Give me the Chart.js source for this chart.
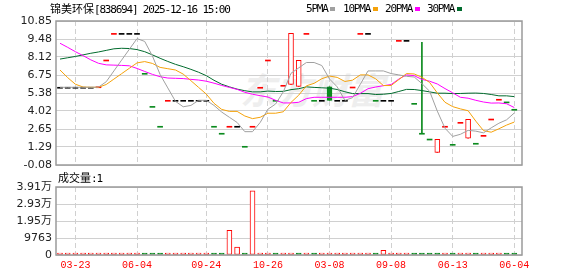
<!DOCTYPE html>
<html><head><meta charset="utf-8">
<script src="https://cdn.jsdelivr.net/npm/chart.js@4/dist/chart.umd.min.js"></script>
<style>
html,body{margin:0;padding:0;background:#fff;}
body{width:578px;height:276px;position:relative;overflow:hidden;}
canvas{position:absolute;left:0;}
#pc{top:0;}
#vc{top:170px;}
.t{position:absolute;white-space:nowrap;font-size:11px;line-height:13px;color:#000;}
.mono{font-family:"DejaVu Sans Mono";letter-spacing:-1.2px;}
.cn{font-family:"Noto Sans CJK SC";}
.sq{position:absolute;width:5px;height:4px;top:7px;}
#wm{position:absolute;left:240px;top:62px;font:italic bold 36px "Noto Sans CJK SC";color:#eeeeee;white-space:nowrap;}
</style></head><body>
<div id="wm">东方财富</div>
<canvas id="pc" width="578" height="176"></canvas>
<canvas id="vc" width="578" height="106"></canvas>
<div class="t" style="left:50px;top:2px"><span class="cn">锦美环保</span><span class="mono">[838694] 2025-12-16 15:00</span></div>
<div class="t mono" style="left:306px;top:2px">5PMA</div><div class="sq" style="left:330px;background:#a0a0a0"></div>
<div class="t mono" style="left:343px;top:2px">10PMA</div><div class="sq" style="left:373px;background:#f5a20a"></div>
<div class="t mono" style="left:385px;top:2px">20PMA</div><div class="sq" style="left:415px;background:#ff00ff"></div>
<div class="t mono" style="left:427px;top:2px">30PMA</div><div class="sq" style="left:457px;background:#006b2d"></div>
<div class="t" style="left:58px;top:171px"><span class="cn">成交量</span><span class="mono">:1</span></div>
<script>
// ---- data ----
const prevClose = 5.82;
const opens  = [5.82,5.82,5.82,5.82,5.82,5.86,7.89,9.91,9.91,9.91, 9.91,6.88,4.37,2.86,4.83,4.83,4.83,4.83,4.83,4.83, 2.86,2.33,2.86,2.86,1.34,2.86,5.82,7.89,4.83,5.97, 6.04,5.89,9.91,4.83,4.83,5.86,4.83,4.83,5.84,9.91, 9.91,4.83,4.83,4.83,9.38,9.38,4.60,2.33,1.89,0.88, 2.86,1.49,3.16,1.95,1.57,2.17,3.41,4.91,4.71,4.15];
const closes = [5.82,5.82,5.82,5.82,5.82,5.86,7.89,9.91,9.91,9.91, 9.91,6.88,4.37,2.86,4.83,4.83,4.83,4.83,4.83,4.83, 2.86,2.33,2.86,2.86,1.34,2.86,5.82,7.89,4.83,5.97, 9.91,7.86,9.91,4.83,4.83,4.83,4.83,4.83,5.84,9.91, 9.91,4.83,4.83,4.83,9.38,9.38,4.60,2.33,1.89,1.87, 2.86,1.49,3.16,3.39,1.57,2.17,3.41,4.91,4.71,4.15];
const highs  = [5.82,5.82,5.82,5.82,5.82,5.86,7.89,9.91,9.91,9.91, 9.91,6.88,4.37,2.86,4.83,4.83,4.83,4.83,4.83,4.83, 2.86,2.33,2.86,2.86,1.34,2.86,5.82,7.89,4.83,5.97, 9.91,7.86,9.91,4.83,4.83,5.86,4.83,4.83,5.84,9.91, 9.91,4.83,4.83,4.83,9.38,9.38,4.60,9.23,1.89,1.87, 2.86,1.49,3.16,3.39,1.57,2.17,3.41,4.91,4.71,4.15];
const lows   = [5.82,5.82,5.82,5.82,5.82,5.86,7.89,9.91,9.91,9.91, 9.91,6.88,4.37,2.86,4.83,4.83,4.83,4.83,4.83,4.83, 2.86,2.33,2.86,2.86,1.34,2.86,5.82,7.89,4.83,5.97, 6.04,5.89,9.91,4.83,4.83,4.83,4.83,4.83,5.84,9.91, 9.91,4.83,4.83,4.83,9.38,9.38,4.60,2.33,1.89,0.88, 2.86,1.49,3.16,1.95,1.57,2.17,3.41,4.91,4.71,4.15];
const volumes = [1,1,1,1,1,1,1,1,1,1, 1,1,1,1,1,1,1,1,1,1, 1,1,14200,4600,1,36800,1,1,1,1, 1,1,1,1,1,1,1,1,1,1, 1,1,2700,1,1,1,1,1,1,1, 1,1,1,1,1,1,1,1,1,1];
const ma5  = [5.82,5.82,5.82,5.82,5.82,5.83,6.24,7.06,7.88,8.70, 9.51,9.30,8.20,6.79,5.77,4.75,4.34,4.44,4.83,4.83, 4.44,3.94,3.54,3.15,2.45,2.45,3.15,4.15,4.55,5.47, 6.88,7.29,7.70,7.70,7.47,6.45,5.85,4.83,5.03,6.05, 7.06,7.06,7.06,6.86,6.76,6.65,6.60,6.10,5.52,4.01, 2.71,2.09,2.25,2.55,2.49,2.36,2.74,3.09,3.35,3.87];
const ma10 = [7.13,6.55,6.05,5.84,5.82,5.82,6.03,6.44,6.85,7.26, 7.67,7.77,7.63,7.33,7.23,7.13,6.82,6.32,5.81,5.30, 4.60,4.14,3.99,3.99,3.64,3.44,3.54,3.85,3.85,3.96, 4.67,5.22,5.93,6.12,6.47,6.67,6.57,6.26,6.36,6.76, 6.76,6.46,5.95,5.95,6.40,6.86,6.83,6.58,6.19,5.39, 4.68,4.35,4.18,4.04,3.25,2.53,2.41,2.67,2.95,3.18];
const ma20 = [9.16,8.85,8.52,8.22,7.90,7.64,7.52,7.50,7.48,7.45, 7.25,7.02,6.80,6.62,6.52,6.50,6.48,6.42,6.37,6.28, 6.13,5.96,5.81,5.66,5.44,5.29,5.18,5.08,4.83,4.63, 4.63,4.68,4.96,5.06,5.06,5.06,5.06,5.06,5.11,5.36, 5.71,5.84,5.94,6.03,6.44,6.76,6.70,6.42,6.28,6.07, 5.72,5.40,5.06,4.99,4.83,4.70,4.62,4.63,4.57,4.28];
const ma30 = [7.96,8.06,8.16,8.28,8.40,8.50,8.62,8.74,8.78,8.76, 8.68,8.52,8.28,8.02,7.78,7.56,7.38,7.18,6.96,6.70, 6.35,6.05,5.85,5.68,5.56,5.47,5.47,5.53,5.50,5.51, 5.64,5.71,5.85,5.81,5.78,5.75,5.65,5.48,5.34,5.34, 5.34,5.27,5.29,5.35,5.50,5.66,5.65,5.57,5.47,5.37, 5.37,5.34,5.35,5.37,5.38,5.35,5.27,5.17,5.17,5.11];
const tickIndex  = [2,10,19,27,35,43,51,59];
const tickLabels = ['03-23','06-04','09-24','10-26','03-08','09-08','06-13','06-04'];
const priceTicks = [-0.08,1.29,2.65,4.02,5.38,6.75,8.12,9.48,10.85];
const volTicks = [0,9763,19526,29289,39052];
const volTickLabels = ['0','9763','1.95万','2.93万','3.91万'];

// ---- styling ----
const RED='#ff0000', GREEN='#0b8a1e', BLACK='#000000';
const C5='#a0a0a0', C10='#f5a20a', C20='#ff00ff', C30='#006b2d';
function dir(i){ const p = i===0 ? prevClose : closes[i-1]; return closes[i]>p ? 1 : (closes[i]<p ? -1 : 0); }
const N = closes.length;
const frame = { id:'frame', afterDraw(chart){ const {ctx, chartArea:a} = chart; ctx.save(); ctx.strokeStyle='#9a9a9a'; ctx.lineWidth=1.5; ctx.strokeRect(a.left, a.top, a.right-a.left, a.bottom-a.top); ctx.restore(); } };
function xAxis(show){ return {
  type:'linear', min:-0.52, max:60, offset:false,
  afterBuildTicks: s => { s.ticks = tickIndex.map(v => ({value:v})); },
  ticks:{ display:show, autoSkip:false, maxRotation:0, padding:4, color:RED, font:{family:'Liberation Mono', size:10}, callback:(v,i)=>tickLabels[i] },
  grid:{ color:'#d0d0d0', lineWidth:1, drawTicks:false, offset:false },
  border:{ display:false, dash:[5,3] },
  afterFit: s => { s.height = show ? 21 : 0; }
}; }
const yFont = {family:'DejaVu Sans, Noto Sans CJK SC', size:11};
const lineDs = (data, color, order) => ({ type:'line', data:data.map((v,i)=>({x:i,y:v})), borderColor:color, borderWidth:1, pointRadius:0, tension:0, order });

const wick=[], body=[], doji=[], bodyBg=[], bodyBd=[], dojiC=[], wickC=[];
for (let i=0;i<N;i++){
  const col = dir(i)>0?RED:(dir(i)<0?GREEN:BLACK);
  if (highs[i]!==lows[i]) { wick.push({x:i,y:[lows[i],highs[i]]}); wickC.push(closes[i]>opens[i]?RED:(closes[i]<opens[i]?GREEN:col)); }
  if (opens[i]!==closes[i]) { body.push({x:i,y:[opens[i],closes[i]]}); const up = closes[i]>opens[i]; bodyBg.push(up?'#ffffff':GREEN); bodyBd.push(up?RED:GREEN); }
  else { doji.push({x:i,y:[closes[i],closes[i]]}); dojiC.push(col); }
}

new Chart(document.getElementById('pc'), {
  type:'bar',
  data:{ datasets:[
    lineDs(ma5, C5, 1), lineDs(ma10, C10, 2), lineDs(ma20, C20, 3), lineDs(ma30, C30, 4),
    { type:'bar', data:doji, backgroundColor:dojiC, borderWidth:0, barThickness:5, minBarLength:1, grouped:false, order:5 },
    { type:'bar', data:body, backgroundColor:bodyBg, borderColor:bodyBd, borderWidth:1, borderSkipped:false, barThickness:5, grouped:false, order:6 },
    { type:'bar', data:wick, backgroundColor:wickC, borderWidth:0, barThickness:1, grouped:false, order:7 }
  ]},
  options:{
    responsive:false, animation:false, events:[],
    layout:{ padding:{ left:0, right:56, top:21, bottom:11 } },
    plugins:{ legend:{display:false}, tooltip:{enabled:false} },
    scales:{
      x: xAxis(false),
      y: { type:'linear', min:-0.08, max:10.85, beginAtZero:false,
        afterBuildTicks: s => { s.ticks = priceTicks.map(v => ({value:v})); },
        ticks:{ padding:4, color:'#222', font:yFont, callback:(v,i)=>priceTicks[i].toFixed(2) },
        grid:{ color:'#d0d0d0', drawTicks:false }, border:{display:false},
        afterFit: s => { s.width = 56; } }
    }
  },
  plugins:[frame]
});

new Chart(document.getElementById('vc'), {
  type:'bar',
  data:{ datasets:[{
    data: volumes.map((v,i)=>({x:i,y:v})),
    backgroundColor: volumes.map((v,i)=> dir(i)<0 ? GREEN : '#ffffff'),
    borderColor: volumes.map((v,i)=> dir(i)<0 ? GREEN : RED),
    borderWidth:1, borderSkipped:false, barThickness:5, minBarLength:2, grouped:false
  }]},
  options:{
    responsive:false, animation:false, events:[],
    layout:{ padding:{ left:0, right:56, top:17, bottom:0 } },
    plugins:{ legend:{display:false}, tooltip:{enabled:false} },
    scales:{
      x: xAxis(true),
      y: { type:'linear', min:0, max:39052,
        afterBuildTicks: s => { s.ticks = volTicks.map(v => ({value:v})); },
        ticks:{ padding:4, color:'#222', font:yFont, callback:(v,i)=>volTickLabels[i] },
        grid:{ color:'#d0d0d0', drawTicks:false }, border:{display:false},
        afterFit: s => { s.width = 56; } }
    }
  },
  plugins:[frame]
});
</script>
</body></html>
